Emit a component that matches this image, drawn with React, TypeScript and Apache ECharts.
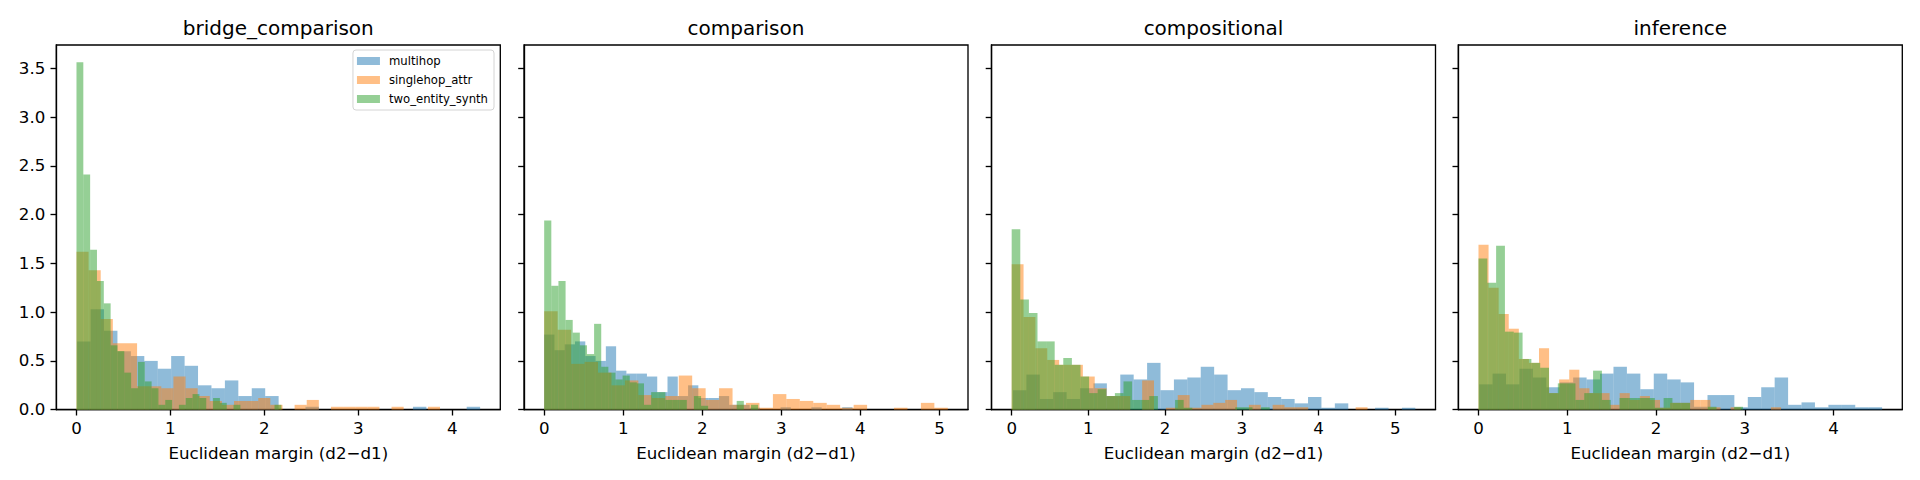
import React, { useEffect, useRef } from "react";
import * as echarts from "echarts";

const panelTitles = ["bridge_comparison", "comparison", "compositional", "inference"];
const groupNames = ["multihop", "singlehop_attr", "two_entity_synth"];
const groupColors = ["rgba(31,119,180,0.5)", "rgba(255,127,14,0.5)", "rgba(44,160,44,0.5)"];

// first bin edge and bin width for each panel / group (30 bins per histogram)
const binStarts = [
  [0.007, 0, 0],
  [0, 0, 0],
  [0.017, 0, 0],
  [0.0075, 0, 0],
];
const binWidths = [
  [0.143, 0.129, 0.0727],
  [0.13, 0.1702, 0.0902],
  [0.1748, 0.1546, 0.1121],
  [0.1513, 0.1136, 0.0993],
];

// densities
const bridgeMultihop = [0.70, 1.03, 0.81, 0.60, 0.55, 0.50, 0.42, 0.55, 0.45, 0.25, 0.22, 0.30, 0.14, 0.22, 0.14, 0, 0, 0.03, 0, 0, 0, 0, 0, 0, 0, 0.03, 0, 0, 0, 0.03];
const bridgeSinglehop = [1.62, 1.43, 0.93, 0.68, 0.68, 0.24, 0.24, 0.22, 0.34, 0.22, 0.14, 0.09, 0.05, 0.09, 0.09, 0.12, 0.05, 0, 0.05, 0.10, 0, 0.03, 0.03, 0.03, 0.03, 0, 0.03, 0, 0, 0.03];
const bridgeTwoEntity = [3.56, 2.41, 1.64, 1.32, 1.09, 0.66, 0.60, 0.38, 0.22, 0.49, 0.29, 0.22, 0.05, 0.10, 0, 0.05, 0.12, 0.16, 0.12, 0, 0.12, 0.07, 0, 0.05, 0, 0, 0, 0, 0, 0.05];

const comparisonMultihop = [0.77, 0.61, 0.67, 0.70, 0.55, 0.50, 0.65, 0.40, 0.37, 0.37, 0.34, 0.18, 0.34, 0.14, 0.25, 0.12, 0.12, 0.14, 0.05, 0.05, 0.02, 0, 0, 0.025, 0, 0, 0.025, 0, 0, 0.025];
const comparisonSinglehop = [1.01, 0.82, 0.47, 0.49, 0.38, 0.25, 0.30, 0.15, 0.12, 0.14, 0.35, 0.22, 0.10, 0.22, 0.05, 0.07, 0.02, 0.16, 0.11, 0.09, 0.07, 0.05, 0.02, 0.05, 0, 0, 0.02, 0, 0.07, 0.02];
const comparisonTwoEntity = [1.94, 1.27, 1.32, 0.92, 0.79, 0.66, 0.57, 0.88, 0.44, 0.38, 0.31, 0.35, 0.28, 0.27, 0.05, 0.18, 0.18, 0.10, 0.10, 0.10, 0, 0.14, 0.04, 0, 0, 0, 0, 0.09, 0, 0.05];

const compositionalMultihop = [0.20, 0.36, 0.11, 0.18, 0.11, 0.22, 0.27, 0.14, 0.36, 0.31, 0.48, 0.20, 0.31, 0.33, 0.44, 0.36, 0.20, 0.22, 0.18, 0.13, 0.11, 0.065, 0.13, 0.02, 0.065, 0, 0, 0.02, 0, 0.02];
const compositionalSinglehop = [1.49, 0.95, 0.63, 0.51, 0.46, 0.46, 0.34, 0.22, 0.14, 0.14, 0, 0.30, 0, 0.02, 0.15, 0.02, 0.05, 0.07, 0.10, 0, 0.05, 0, 0.05, 0.025, 0.025, 0, 0, 0, 0, 0.025];
const compositionalTwoEntity = [1.85, 1.13, 0.99, 0.70, 0.70, 0.46, 0.53, 0.46, 0.34, 0.17, 0.21, 0.14, 0.17, 0.29, 0.10, 0.10, 0.14, 0, 0, 0.10, 0.02, 0, 0, 0, 0, 0, 0.025, 0.025, 0, 0.025];

const inferenceMultihop = [0.26, 0.37, 0.26, 0.42, 0.33, 0.23, 0.28, 0.33, 0.31, 0.37, 0.44, 0.37, 0.21, 0.37, 0.31, 0.28, 0.03, 0.15, 0.15, 0.025, 0.13, 0.23, 0.33, 0.05, 0.075, 0.025, 0.05, 0.05, 0.025, 0.025];
const inferenceSinglehop = [1.69, 1.25, 0.98, 0.83, 0.52, 0.48, 0.63, 0.17, 0.31, 0.41, 0.22, 0.17, 0.17, 0.05, 0.17, 0.10, 0.14, 0.10, 0.02, 0.07, 0.07, 0.10, 0.10, 0.025, 0, 0.025, 0, 0, 0, 0.025];
const inferenceTwoEntity = [1.55, 1.30, 1.68, 0.80, 0.79, 0.52, 0.48, 0.43, 0.17, 0.27, 0.27, 0.10, 0.17, 0.40, 0.10, 0, 0.12, 0.12, 0.12, 0.12, 0.02, 0.12, 0.07, 0.07, 0, 0, 0.03, 0, 0, 0.03];

const densities = [
  [bridgeMultihop, bridgeSinglehop, bridgeTwoEntity],
  [comparisonMultihop, comparisonSinglehop, comparisonTwoEntity],
  [compositionalMultihop, compositionalSinglehop, compositionalTwoEntity],
  [inferenceMultihop, inferenceSinglehop, inferenceTwoEntity],
];

const xTicks = [
  [0, 1, 2, 3, 4],
  [0, 1, 2, 3, 4, 5],
  [0, 1, 2, 3, 4, 5],
  [0, 1, 2, 3, 4],
];
const yTicks = [0, 0.5, 1, 1.5, 2, 2.5, 3, 3.5];

const FONT = "DejaVu Sans";
const gridLefts = [56.3, 524, 991.5, 1458.3];
const GRID_W = 444;
const GRID_TOP = 45;
const GRID_H = 364.7;

export default function App() {
  const chartRef = useRef<HTMLDivElement>(null);

  useEffect(() => {
    if (!chartRef.current) return;
    const chart = echarts.init(chartRef.current, null, { renderer: "svg" });

    const yMax = Math.max(...densities.flat(2)) * 1.05;

    const xRanges = densities.map((groups, p) => {
      let lo = Infinity;
      let hi = -Infinity;
      groups.forEach((vals, g) => {
        lo = Math.min(lo, binStarts[p][g]);
        hi = Math.max(hi, binStarts[p][g] + vals.length * binWidths[p][g]);
      });
      const pad = (hi - lo) * 0.05;
      return [lo - pad, hi + pad];
    });

    const lineStyle = { color: "#000", width: 1.33 };
    const tickStyle = { show: true, length: 5.8, lineStyle };

    const series: any[] = [];
    densities.forEach((groups, p) => {
      groups.forEach((vals, g) => {
        const data = vals
          .map((h, i) => {
            const x0 = binStarts[p][g] + i * binWidths[p][g];
            return [x0, x0 + binWidths[p][g], h];
          })
          .filter((d) => d[2] > 0);
        const color = groupColors[g];
        series.push({
          name: groupNames[g],
          type: "custom",
          xAxisIndex: p,
          yAxisIndex: p,
          itemStyle: { color },
          encode: { x: [0, 1], y: 2 },
          data,
          renderItem: (_params: any, api: any) => {
            const a = api.coord([api.value(0), api.value(2)]);
            const b = api.coord([api.value(1), 0]);
            return {
              type: "rect",
              shape: { x: a[0], y: a[1], width: b[0] - a[0], height: b[1] - a[1] },
              style: { fill: color },
            };
          },
        });
      });
    });

    const option: echarts.EChartsOption = {
      animation: false,
      backgroundColor: "#fff",
      title: panelTitles.map((t, p) => ({
        text: t,
        left: gridLefts[p] + GRID_W / 2,
        top: 18,
        textAlign: "center",
        padding: 0,
        textStyle: { fontFamily: FONT, fontSize: 20, fontWeight: "normal", color: "#000" },
      })),
      legend: {
        data: groupNames,
        orient: "vertical",
        right: 1426,
        top: 50,
        icon: "rect",
        itemWidth: 23,
        itemHeight: 8,
        itemGap: 5,
        selectedMode: false,
        padding: [4, 6, 4, 4],
        borderColor: "#d4d4d4",
        borderWidth: 1,
        borderRadius: 3,
        backgroundColor: "rgba(255,255,255,0.8)",
        textStyle: { fontFamily: FONT, fontSize: 11.67, color: "#000", lineHeight: 14, padding: [0, 0, 0, 4] },
      },
      grid: gridLefts.map((left) => ({
        left,
        top: GRID_TOP,
        width: GRID_W,
        height: GRID_H,
        show: true,
        borderColor: "#000",
        borderWidth: 1.33,
        backgroundColor: "transparent",
      })),
      xAxis: xRanges.map((r, p) => ({
        type: "value",
        gridIndex: p,
        min: r[0],
        max: r[1],
        name: "Euclidean margin (d2\u2212d1)",
        nameLocation: "middle",
        nameGap: 35,
        nameTextStyle: { fontFamily: FONT, fontSize: 16.67, color: "#000" },
        axisLine: { show: true, onZero: false, lineStyle },
        axisTick: { ...tickStyle, customValues: xTicks[p] },
        axisLabel: {
          customValues: xTicks[p],
          fontFamily: FONT,
          fontSize: 16.67,
          color: "#000",
          margin: 10,
        },
        splitLine: { show: false },
      })),
      yAxis: gridLefts.map((_, p) => ({
        type: "value",
        gridIndex: p,
        min: 0,
        max: yMax,
        axisLine: { show: true, onZero: false, lineStyle },
        axisTick: { ...tickStyle, customValues: yTicks },
        axisLabel: {
          show: p === 0,
          customValues: yTicks,
          fontFamily: FONT,
          fontSize: 16.67,
          color: "#000",
          margin: 11,
          formatter: (v: number) => v.toFixed(1),
        },
        splitLine: { show: false },
      })),
      series,
    };

    chart.setOption(option);
    return () => chart.dispose();
  }, []);

  return (
    <div
      ref={chartRef}
      style={{ position: "fixed", left: 0, top: 0, width: 1920, height: 480, background: "#fff" }}
    />
  );
}
